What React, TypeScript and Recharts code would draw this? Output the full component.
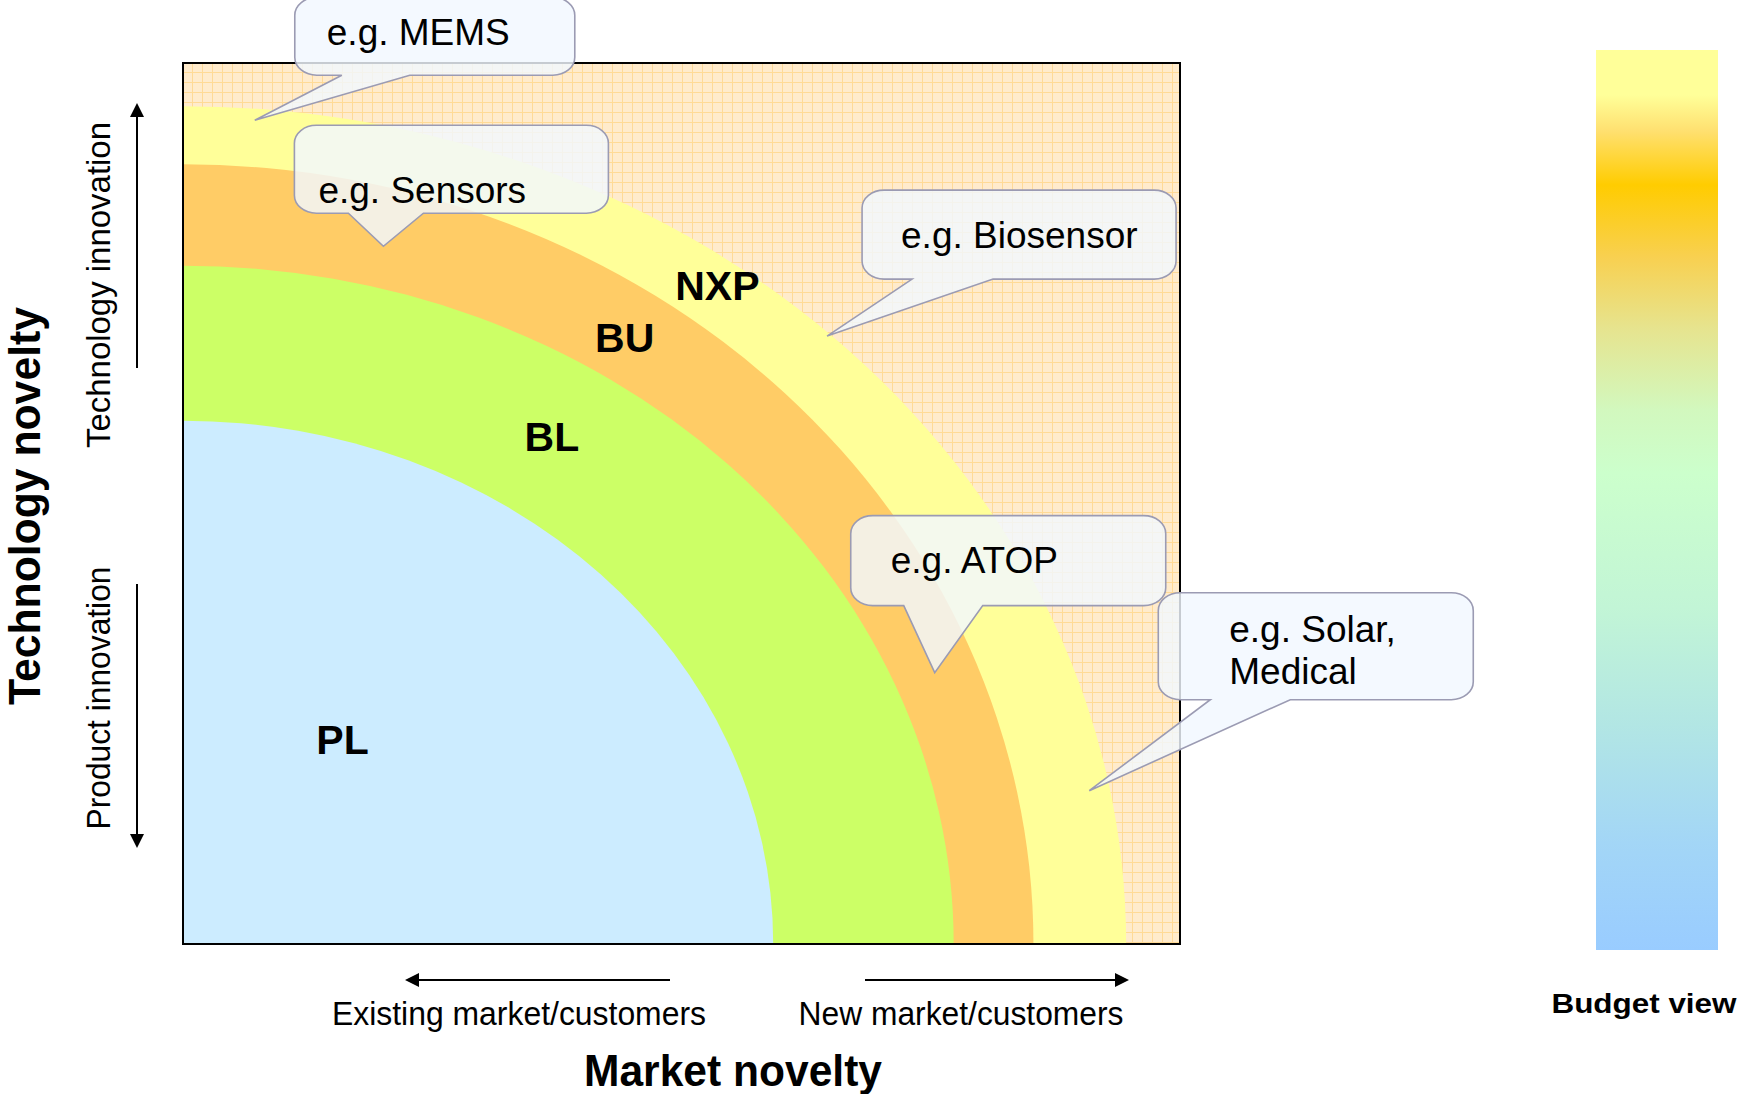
import React from 'react';
import { ComposedChart, XAxis, YAxis, ReferenceArea, Scatter } from 'recharts';

// ---------- data ----------
const ringNames = ['NXP', 'BU', 'BL', 'PL'];
const ringRadiusX = [94.6, 85.3, 77.3, 59.2];
const ringRadiusY = [95.1, 88.5, 77.0, 59.4];
const ringLabelX = [53.6, 44.3, 37.0, 16.0];
const ringLabelY = [74.7, 68.8, 57.6, 23.1];

const calloutTexts = [['e.g. MEMS'], ['e.g. Sensors'], ['e.g. Biosensor'], ['e.g. ATOP'], ['e.g. Solar,', 'Medical']];
const calloutTipX = [7.2, 20.1, 64.6, 75.4, 90.9];
const calloutTipY = [93.5, 79.2, 69.0, 30.8, 17.4];

const yAxisTitle = 'Technology novelty';
const xAxisTitle = 'Market novelty';
const yUpperLabel = 'Technology  innovation';
const yLowerLabel = 'Product innovation';
const xLeftLabel = 'Existing market/customers';
const xRightLabel = 'New market/customers';
const scaleTitle = 'Budget view';

// ---------- styles / layout ----------
const ringColors = ['#FFFF99', '#FFCC66', '#CCFF66', '#CCECFF'];
const FONT = '"Liberation Sans", Arial, Helvetica, sans-serif';

// box geometry relative to the tip (pixels)
const calloutLayout = [
  { L: 40, R: 320, T: -123, B: -45, bL: 87, bR: 155, tx: 72, ty: -75 },
  { L: -89, R: 225, T: -121, B: -33, bL: -35, bR: 40, tx: -65, ty: -43 },
  { L: 35, R: 349, T: -146, B: -57, bL: 85, bR: 166, tx: 74, ty: -88 },
  { L: -84, R: 231, T: -157, B: -67, bL: -31, bR: 48, tx: -44, ty: -100 },
  { L: 69, R: 384, T: -198, B: -91, bL: 121, bR: 201, tx: 140, ty: -149 },
];

const ringLabelData = ringNames.map((n, i) => ({ x: ringLabelX[i], y: ringLabelY[i], name: n }));
const calloutData = calloutTexts.map((t, i) => ({ x: calloutTipX[i], y: calloutTipY[i], lines: t, idx: i }));

const QuarterEllipse = (color: string) => (p: any) => {
  const { x, y, width, height } = p;
  const d = `M${x},${y + height} L${x},${y} A${width} ${height} 0 0 1 ${x + width},${y + height} Z`;
  return <path d={d} fill={color} stroke="none" />;
};

const BackgroundShape = (p: any) => (
  <g>
    <defs>
      <pattern id="gridPat" width="10" height="10" patternUnits="userSpaceOnUse" x={p.x} y={p.y}>
        <rect width="10" height="10" fill="#FFEBCC" />
        <path d="M9.5 0 V10 M0 9.5 H10" stroke="#FFDA96" strokeWidth="1" />
      </pattern>
    </defs>
    <rect x={p.x} y={p.y} width={p.width} height={p.height} fill="url(#gridPat)" />
  </g>
);

const BorderShape = (p: any) => (
  <rect x={p.x} y={p.y} width={p.width} height={p.height} fill="none" stroke="#000" strokeWidth={2} />
);

const RingLabel = (p: any) => (
  <text x={p.cx} y={p.cy} textAnchor="middle" dominantBaseline="central" fontFamily={FONT} fontWeight="bold" fontSize={41} fill="#000">
    {p.payload.name}
  </text>
);

const Callout = (p: any) => {
  const { cx, cy, payload } = p;
  const g = calloutLayout[payload.idx];
  const L = cx + g.L, R = cx + g.R, T = cy + g.T, B = cy + g.B;
  const rx = 22, ry = 18;
  const d = [
    `M${L + rx},${T}`,
    `L${R - rx},${T}`,
    `A${rx} ${ry} 0 0 1 ${R},${T + ry}`,
    `L${R},${B - ry}`,
    `A${rx} ${ry} 0 0 1 ${R - rx},${B}`,
    `L${cx + g.bR},${B}`,
    `L${cx},${cy}`,
    `L${cx + g.bL},${B}`,
    `L${L + rx},${B}`,
    `A${rx} ${ry} 0 0 1 ${L},${B - ry}`,
    `L${L},${T + ry}`,
    `A${rx} ${ry} 0 0 1 ${L + rx},${T}`,
    'Z',
  ].join(' ');
  return (
    <g>
      <path d={d} fill="#F2F8FF" fillOpacity={0.82} stroke="#9B9BB3" strokeWidth={1.6} />
      {payload.lines.map((t: string, k: number) => (
        <text key={k} x={cx + g.tx} y={cy + g.ty + k * 42} fontFamily={FONT} fontSize={37} fill="#000">
          {t}
        </text>
      ))}
    </g>
  );
};

const Arrow = ({ x1, y1, x2, y2 }: { x1: number; y1: number; x2: number; y2: number }) => {
  const dx = x2 - x1, dy = y2 - y1;
  const len = Math.hypot(dx, dy);
  const ux = dx / len, uy = dy / len;
  const hl = 14, hw = 7;
  const bx = x2 - ux * hl, by = y2 - uy * hl;
  const pts = `${x2},${y2} ${bx - uy * hw},${by + ux * hw} ${bx + uy * hw},${by - ux * hw}`;
  return (
    <g>
      <line x1={x1} y1={y1} x2={bx} y2={by} stroke="#000" strokeWidth={2} />
      <polygon points={pts} fill="#000" />
    </g>
  );
};

export default function App() {
  return (
    <div style={{ position: 'absolute', left: 0, top: 0, width: 1739, height: 1094, background: '#fff', overflow: 'hidden' }}>
      <ComposedChart width={1739} height={1094} margin={{ top: 63, left: 183, right: 559, bottom: 150 }}>
        <XAxis type="number" dataKey="x" domain={[0, 100]} hide />
        <YAxis type="number" dataKey="y" domain={[0, 100]} hide />
        <ReferenceArea x1={0} x2={100} y1={0} y2={100} shape={BackgroundShape} ifOverflow="visible" />
        {ringNames.map((n, i) => (
          <ReferenceArea
            key={n}
            x1={0}
            x2={ringRadiusX[i]}
            y1={0}
            y2={ringRadiusY[i]}
            shape={QuarterEllipse(ringColors[i])}
            ifOverflow="visible"
          />
        ))}
        <ReferenceArea x1={0} x2={100} y1={0} y2={100} shape={BorderShape} ifOverflow="visible" />
        <Scatter data={ringLabelData} shape={RingLabel} isAnimationActive={false} />
        <Scatter data={calloutData} shape={Callout} isAnimationActive={false} />
      </ComposedChart>
      <svg width={1739} height={1094} style={{ position: 'absolute', left: 0, top: 0, pointerEvents: 'none' }}>
        <defs>
          <linearGradient id="budgetGrad" x1="0" y1="0" x2="0" y2="1">
            <stop offset="0" stopColor="#FFFF99" />
            <stop offset="0.05" stopColor="#FFFF99" />
            <stop offset="0.09" stopColor="#FFE070" />
            <stop offset="0.15" stopColor="#FFCC00" />
            <stop offset="0.23" stopColor="#F8D050" />
            <stop offset="0.31" stopColor="#E6E48F" />
            <stop offset="0.40" stopColor="#D2F8BE" />
            <stop offset="0.47" stopColor="#CCFFCC" />
            <stop offset="0.62" stopColor="#C2F5D6" />
            <stop offset="0.75" stopColor="#B2E6E4" />
            <stop offset="0.88" stopColor="#A3D6F6" />
            <stop offset="1" stopColor="#99CCFF" />
          </linearGradient>
        </defs>
        <text x={24} y={506} transform="rotate(-90 24 506)" textAnchor="middle" dominantBaseline="central" fontFamily={FONT} fontWeight="bold" fontSize={44} textLength={398} lengthAdjust="spacingAndGlyphs">
          {yAxisTitle}
        </text>
        <text x={98} y={285} transform="rotate(-90 98 285)" textAnchor="middle" dominantBaseline="central" fontFamily={FONT} fontSize={33} textLength={326} lengthAdjust="spacingAndGlyphs">
          {yUpperLabel}
        </text>
        <text x={98} y={698} transform="rotate(-90 98 698)" textAnchor="middle" dominantBaseline="central" fontFamily={FONT} fontSize={33} textLength={263} lengthAdjust="spacingAndGlyphs">
          {yLowerLabel}
        </text>
        <Arrow x1={137} y1={368} x2={137} y2={103} />
        <Arrow x1={137} y1={584} x2={137} y2={848} />
        <Arrow x1={670} y1={980} x2={405} y2={980} />
        <Arrow x1={865} y1={980} x2={1129} y2={980} />
        <text x={519} y={1013} textAnchor="middle" dominantBaseline="central" fontFamily={FONT} fontSize={33} textLength={374} lengthAdjust="spacingAndGlyphs">
          {xLeftLabel}
        </text>
        <text x={961} y={1013} textAnchor="middle" dominantBaseline="central" fontFamily={FONT} fontSize={33} textLength={325} lengthAdjust="spacingAndGlyphs">
          {xRightLabel}
        </text>
        <text x={733} y={1070} textAnchor="middle" dominantBaseline="central" fontFamily={FONT} fontWeight="bold" fontSize={44} textLength={298} lengthAdjust="spacingAndGlyphs">
          {xAxisTitle}
        </text>
        <rect x={1596} y={50} width={122} height={900} fill="url(#budgetGrad)" />
        <text x={1644} y={1003} textAnchor="middle" dominantBaseline="central" fontFamily={FONT} fontWeight="bold" fontSize={28} textLength={185} lengthAdjust="spacingAndGlyphs">
          {scaleTitle}
        </text>
      </svg>
    </div>
  );
}
